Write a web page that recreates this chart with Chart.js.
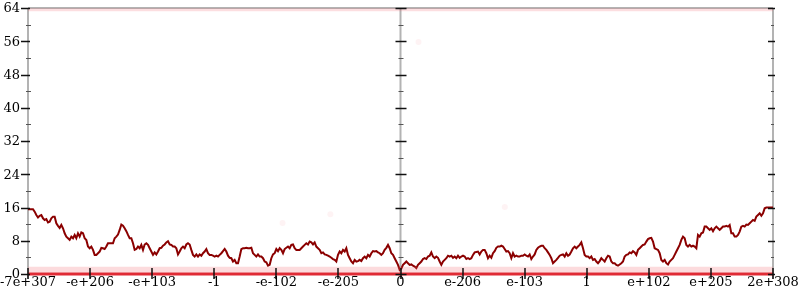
<!DOCTYPE html>
<html>
<head>
<meta charset="utf-8">
<script src="https://cdn.jsdelivr.net/npm/chart.js@4/dist/chart.umd.min.js"></script>
<style>
  html, body { margin: 0; padding: 0; background: #ffffff; }
  #wrap { width: 800px; height: 300px; }
</style>
</head>
<body>
<div id="wrap"><canvas id="chart" width="800" height="300"></canvas></div>
<script>
// x 軸刻度標籤（-6 ... 6 對應）
const xLabels = ["-7e+307", "-e+206", "-e+103", "-1", "-e-102", "-e-205", "0",
                 "e-206", "e-103", "1", "e+102", "e+205", "2e+308"];
const yTicks = [0, 8, 16, 24, 32, 40, 48, 56, 64];

// 深紅折線（等距取樣，從 -6 到 6）
const walkValues = [
  // -6 ... -3.6
  15.6, 15.6, 15.6, 15.6, 15.0, 14.2, 13.6, 14.0, 14.2, 13.4, 13.0, 13.2, 12.4, 12.6, 13.4,
  13.8, 13.8, 12.2, 11.6, 11.1, 11.8, 11.0, 9.8, 9.0, 8.6, 8.2, 9.0, 8.6, 9.4, 8.6,
  9.8, 9.0, 10.0, 9.8, 8.6, 8.2, 6.6, 6.2, 6.6, 5.8, 4.6, 4.6, 5.0, 5.4, 6.3,
  6.2, 6.0, 6.6, 7.4, 7.4, 7.4, 7.4, 8.6, 9.0, 9.5, 10.6, 11.9, 11.6, 11.0, 10.3,
  9.4, 8.6, 8.6, 7.4, 5.8, 6.0, 6.6, 6.2, 7.0, 5.8, 7.1, 7.4, 7.0, 6.2, 5.4,
  4.6, 5.2, 4.7, 5.4, 6.2, 6.3, 6.8, 7.1, 7.6, 7.9, 7.1, 7.0, 6.6,
  // -3.6 ... -1.2
  6.6, 6.2, 4.7, 5.4, 6.2, 6.6, 6.2, 7.1, 7.4, 7.1, 5.8, 4.6, 4.2, 4.7, 4.2,
  4.7, 4.4, 5.0, 5.4, 6.0, 5.0, 4.6, 4.6, 4.4, 4.2, 4.4, 4.2, 4.6, 5.0, 5.5,
  6.0, 5.4, 4.4, 3.9, 3.8, 3.0, 3.4, 2.6, 2.6, 4.2, 6.0, 6.2, 6.2, 6.3, 6.2,
  6.2, 6.3, 5.0, 4.6, 4.2, 4.7, 4.2, 4.2, 3.8, 3.0, 2.8, 2.0, 2.2, 3.8, 4.7,
  5.0, 6.0, 5.5, 6.2, 5.8, 5.0, 6.0, 6.3, 6.6, 6.2, 7.0, 7.1, 6.2, 5.8, 5.8,
  5.8, 6.2, 6.6, 7.0, 7.4, 7.1, 7.8, 7.6, 7.1, 7.6, 6.6, 6.2, 5.8, 5.0, 5.2,
  // -1.2 ... 1.2
  4.7, 4.6, 4.4, 4.2, 3.9, 3.6, 3.4, 3.0, 4.6, 5.4, 5.0, 5.8, 5.4, 6.2, 4.6,
  3.8, 3.0, 2.6, 3.4, 3.0, 3.1, 3.4, 3.1, 3.8, 4.2, 3.8, 4.6, 4.2, 5.0, 5.5,
  5.4, 5.5, 5.2, 5.0, 4.6, 5.0, 5.8, 6.3, 7.0, 6.2, 5.0, 4.6, 3.8, 3.0, 2.2,
  1.0, 1.3, 2.2, 2.6, 3.0, 2.6, 2.2, 2.3, 2.0, 1.8, 1.4, 2.2, 2.6, 3.0, 3.6,
  3.8, 3.6, 4.2, 4.4, 5.2, 4.2, 3.8, 4.2, 3.9, 3.0, 2.2, 3.0, 3.4, 3.8, 4.4,
  4.2, 4.4, 3.9, 4.2, 3.8, 4.4, 3.9, 4.2, 4.4, 4.2, 3.6, 3.8, 3.6, 3.8, 4.6,
  // 1.2 ... 3.6
  5.2, 5.3, 5.4, 4.7, 5.4, 5.8, 5.8, 5.0, 3.8, 4.4, 3.9, 5.0, 5.5, 6.3, 6.6,
  6.6, 6.8, 6.6, 6.0, 5.4, 5.5, 5.0, 3.8, 5.0, 4.2, 4.4, 4.2, 4.2, 4.4, 4.4,
  4.7, 4.4, 4.2, 4.7, 3.6, 4.2, 4.7, 5.8, 6.3, 6.6, 6.8, 6.8, 6.2, 5.8, 5.2,
  4.6, 3.8, 2.6, 3.0, 3.4, 3.9, 4.4, 4.6, 4.7, 4.2, 5.0, 4.4, 4.7, 5.4, 6.2,
  6.6, 6.2, 6.6, 7.0, 7.6, 6.2, 4.6, 4.2, 4.2, 3.8, 4.2, 3.4, 3.6, 3.0, 2.6,
  3.1, 3.8, 3.4, 3.0, 3.8, 4.4, 4.2, 3.0, 2.6, 2.6, 2.2, 2.0, 2.3, 2.6, 3.0,
  // 3.6 ... 6
  4.2, 4.6, 4.7, 5.2, 5.0, 5.5, 5.2, 4.6, 5.8, 6.2, 6.6, 7.0, 7.1, 7.8, 8.4,
  8.6, 8.7, 7.8, 6.2, 6.0, 5.8, 5.0, 3.4, 3.0, 3.4, 2.6, 2.3, 3.0, 3.4, 3.8,
  4.6, 5.4, 6.2, 7.0, 8.2, 9.0, 8.6, 7.0, 6.6, 7.0, 6.6, 6.8, 6.6, 6.2, 9.4,
  9.0, 9.8, 10.0, 11.4, 11.4, 11.0, 10.6, 11.0, 10.3, 11.0, 11.4, 11.0, 10.6, 11.0, 11.4,
  11.4, 11.6, 11.4, 11.8, 9.8, 9.8, 9.0, 9.0, 9.4, 10.2, 11.4, 11.6, 11.4, 11.9, 11.8,
  12.2, 12.6, 13.0, 12.8, 13.8, 14.2, 14.6, 14.0, 14.6, 15.8, 16.0, 16.0, 16.0, 16.0, 16.0
];

// 底部紅線與淡紅點帶
const bandX = [-6, 6];
const baseLine = [0, 0];
const lowBand = [1.0, 1.0];
const highBand = [63.6, 63.6];

// 零星淡紅點
const strayX = [-1.9, -1.13, 1.68, 0.29];
const strayY = [12.3, 14.4, 16.1, 55.8];

const xMin = -6, xMax = 6;
const walkStep = (xMax - xMin) / (walkValues.length - 1);
const walkPoints = walkValues.map((v, i) => ({ x: xMin + i * walkStep, y: v }));
const pairs = (xs, ys) => xs.map((x, i) => ({ x: x, y: ys[i] }));

const labelFont = "13px 'DejaVu Serif'";

// 座標軸框線、刻度與標籤
const axisFrame = {
  id: "axisFrame",
  beforeDatasetsDraw(chart) {
    const { ctx, chartArea: a, scales: { x } } = chart;
    const x0 = x.getPixelForValue(0);
    ctx.save();
    ctx.strokeStyle = "#b3b3b3";
    ctx.lineWidth = 2;
    ctx.beginPath();
    ctx.moveTo(a.left, a.top); ctx.lineTo(a.left, a.bottom + 5);
    ctx.moveTo(x0, a.top); ctx.lineTo(x0, a.bottom + 5);
    ctx.moveTo(a.right, a.top); ctx.lineTo(a.right, a.bottom + 5);
    ctx.moveTo(a.left, a.top); ctx.lineTo(a.right, a.top);
    ctx.moveTo(a.left, a.bottom); ctx.lineTo(a.right, a.bottom);
    ctx.stroke();
    ctx.restore();
  },
  afterDatasetsDraw(chart) {
    const { ctx, chartArea: a, scales: { x, y } } = chart;
    const x0 = x.getPixelForValue(0);
    ctx.save();
    for (let v = 0; v <= 64; v += 4) {
      const py = Math.round(y.getPixelForValue(v)) + 0.5;
      const major = v % 8 === 0;
      ctx.strokeStyle = major ? "#111111" : "#555555";
      ctx.lineWidth = major ? 1.5 : 1;
      ctx.beginPath();
      if (major) {
        ctx.moveTo(a.left - 7, py); ctx.lineTo(a.left + 2, py);
        ctx.moveTo(x0 - 5, py); ctx.lineTo(x0 + 6, py);
        ctx.moveTo(a.right - 5, py); ctx.lineTo(a.right + 2, py);
      } else {
        ctx.moveTo(a.left - 2, py); ctx.lineTo(a.left + 3, py);
        ctx.moveTo(x0 - 2, py); ctx.lineTo(x0 + 3, py);
        ctx.moveTo(a.right - 2, py); ctx.lineTo(a.right + 1, py);
      }
      ctx.stroke();
    }
    ctx.strokeStyle = "#111111";
    ctx.lineWidth = 1.5;
    for (let i = xMin; i <= xMax; i++) {
      const px = Math.round(x.getPixelForValue(i));
      ctx.beginPath();
      ctx.moveTo(px, a.bottom - 6);
      ctx.lineTo(px, a.bottom + 5);
      ctx.stroke();
    }

    // 標籤
    ctx.fillStyle = "#000000";
    ctx.font = labelFont;
    ctx.textAlign = "right";
    ctx.textBaseline = "middle";
    yTicks.forEach(v => {
      ctx.fillText(String(v), a.left - 8, y.getPixelForValue(v) + 1);
    });
    ctx.textAlign = "center";
    ctx.textBaseline = "alphabetic";
    xLabels.forEach((lab, i) => {
      ctx.fillText(lab, x.getPixelForValue(xMin + i), a.bottom + 12);
    });
    ctx.restore();
  }
};

new Chart(document.getElementById("chart"), {
  type: "scatter",
  data: {
    datasets: [
      {
        data: pairs(bandX, lowBand),
        showLine: true,
        borderColor: "rgba(240,90,100,0.22)",
        borderWidth: 6,
        pointRadius: 0,
        clip: false,
      },
      {
        data: pairs(bandX, highBand),
        showLine: true,
        borderColor: "rgba(240,90,100,0.2)",
        borderWidth: 3,
        pointRadius: 0,
        clip: false,
      },
      {
        data: pairs(strayX, strayY),
        pointRadius: 3,
        pointBackgroundColor: "rgba(240,90,100,0.07)",
        pointBorderWidth: 0,
      },
      {
        data: pairs(bandX, baseLine),
        showLine: true,
        borderColor: "#e02b35",
        borderWidth: 3,
        pointRadius: 0,
        clip: false,
      },
      {
        data: walkPoints,
        showLine: true,
        borderColor: "#8b0000",
        borderWidth: 2,
        pointRadius: 0,
        tension: 0,
      },
    ],
  },
  options: {
    responsive: false,
    animation: false,
    layout: { padding: { left: 28, right: 27, top: 8, bottom: 26 } },
    plugins: { legend: { display: false }, tooltip: { enabled: false } },
    scales: {
      x: { type: "linear", min: xMin, max: xMax, display: false },
      y: { type: "linear", min: 0, max: 64, display: false },
    },
  },
  plugins: [axisFrame],
});
</script>
</body>
</html>
